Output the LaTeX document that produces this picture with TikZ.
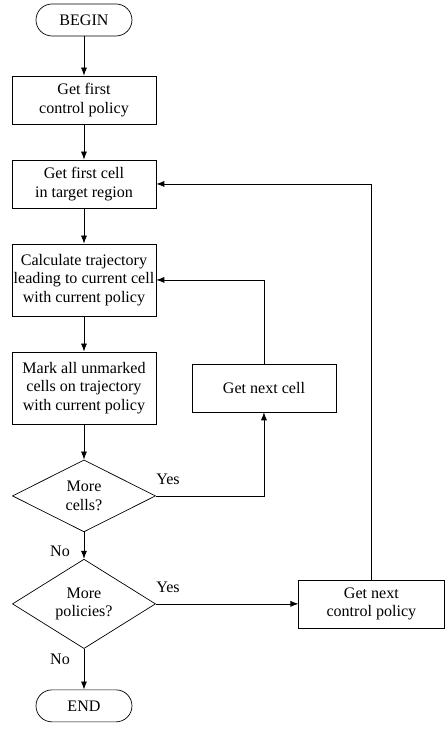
\documentclass[tikz,border=0pt]{standalone}
\usepackage{fontspec}
\setmainfont{Liberation Serif}
\usepackage{tikz}
\usetikzlibrary{shapes.geometric,arrows.meta}

\begin{document}
\begin{tikzpicture}[x=1cm,y=1cm,
  FCLine/.style={line width=0.7pt,-{Latex[length=2.8mm,width=2.1mm]}},
  FCBox/.style={draw,line width=0.7pt,rectangle,align=center,minimum width=5.04cm,inner sep=0pt,font=\fontsize{16}{18.3}\selectfont},
  FCTerm/.style={draw,line width=0.7pt,rectangle,rounded corners=0.56cm,minimum width=3.36cm,minimum height=1.12cm,inner sep=0pt,font=\fontsize{16}{18.3}\selectfont},
  FCDecision/.style={draw,line width=0.7pt,diamond,align=center,minimum width=5.01cm,minimum height=2.52cm,inner sep=0pt,font=\fontsize{16}{18.3}\selectfont},
  FCLabel/.style={font=\fontsize{16}{18.3}\selectfont}]
\path[use as bounding box] (0,0) rectangle (15.68,25.52);
\node[FCTerm] (begin) at (2.94,24.82) {BEGIN};
\node[FCBox,minimum height=1.68cm] (firstpolicy) at (2.94,22.02) {Get first\\control policy};
\node[FCBox,minimum height=1.68cm] (firstcell) at (2.94,19.08) {Get first cell\\in target region};
\node[FCBox,minimum height=2.52cm] (calctraj) at (2.94,15.72) {Calculate trajectory\\leading to current cell\\with current policy};
\node[FCBox,minimum height=2.52cm] (markcells) at (2.94,11.94) {Mark all unmarked\\cells on trajectory\\with current policy};
\node[FCBox,minimum height=1.68cm] (nextcell) at (9.24,11.94) {Get next cell};
\node[FCDecision] (morecells) at (2.94,8.16) {More\\cells?};
\node[FCDecision] (morepolicies) at (2.94,4.38) {More\\policies?};
\node[FCBox,minimum height=1.68cm,minimum width=5.08cm] (nextpolicy) at (13.00,4.38) {Get next\\control policy};
\node[FCTerm] (end) at (2.94,0.81) {END};
\node[FCLabel] (yescells) at (5.88,8.75) {Yes};
\node[FCLabel] (yespolicies) at (5.88,4.97) {Yes};
\node[FCLabel] (nocells) at (2.10,6.23) {No};
\node[FCLabel] (nopolicies) at (2.10,2.45) {No};
\draw[FCLine] (begin) -- (firstpolicy);
\draw[FCLine] (firstpolicy) -- (firstcell);
\draw[FCLine] (firstcell) -- (calctraj);
\draw[FCLine] (calctraj) -- (markcells);
\draw[FCLine] (markcells) -- (morecells);
\draw[FCLine] (morecells) -- (morepolicies);
\draw[FCLine] (morepolicies) -- (end);
\draw[FCLine] (morecells.east) -| (nextcell.south);
\draw[FCLine] (nextcell.north) |- (calctraj.east);
\draw[FCLine] (morepolicies) -- (nextpolicy);
\draw[FCLine] (nextpolicy.north) |- (firstcell.east);
\end{tikzpicture}
\end{document}
